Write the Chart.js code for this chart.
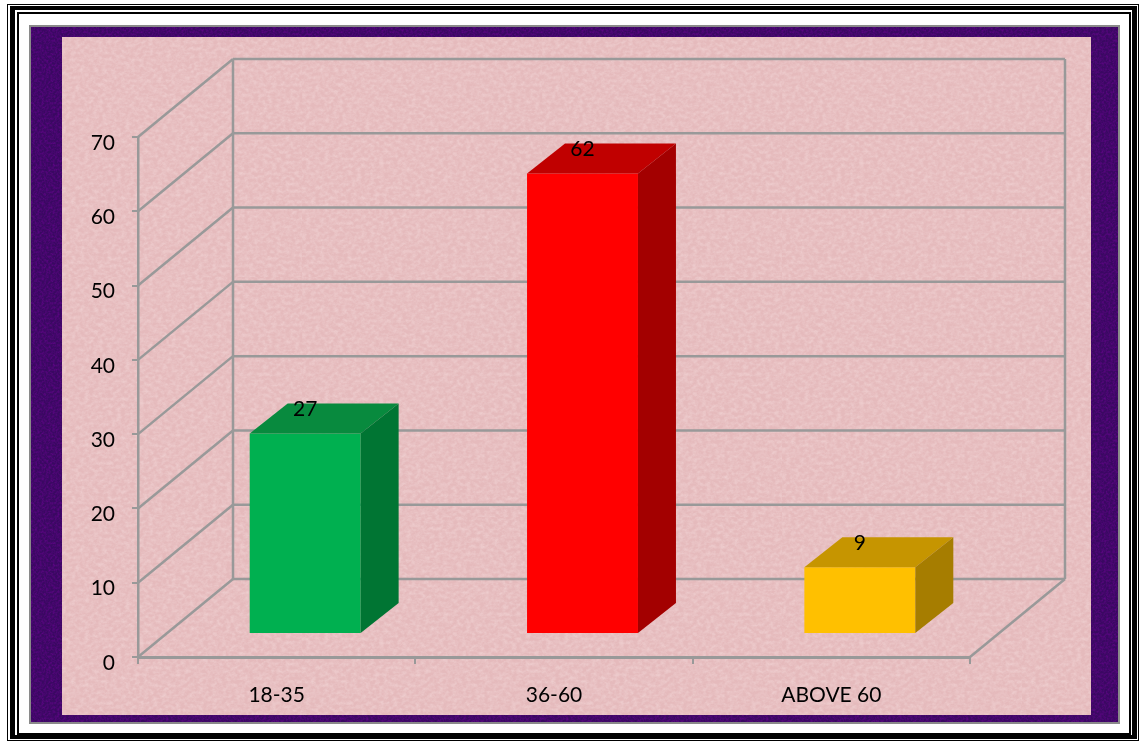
<!DOCTYPE html>
<html>
<head>
<meta charset="utf-8">
<title>Age groups</title>
<script src="https://cdn.jsdelivr.net/npm/chart.js@4/dist/chart.umd.min.js"></script>
<style>
  html, body { margin: 0; padding: 0; background: #fff; }
  #page { position: relative; width: 1144px; height: 742px; overflow: hidden; background: #fff; }
  .box { position: absolute; box-sizing: border-box; }
  #rule1 { left: 7px; top: 4px; width: 1132px; height: 737px; border: 1px solid #000; }
  #rule2 { left: 10px; top: 6px; width: 1127px; height: 733px; border: solid #000; border-width: 4px 5px; }
  #rule3 { left: 17px; top: 12px; width: 1114px; height: 723px; border: 2px solid #000; }
  #panel {
    left: 29px; top: 25px; width: 1091px; height: 699px;
    border: 2px solid #8a8a8a;
    background-color: #3a0862;
    background-image: url("data:image/svg+xml,%3Csvg xmlns='http://www.w3.org/2000/svg' width='200' height='200'%3E%3Cfilter id='n'%3E%3CfeTurbulence type='fractalNoise' baseFrequency='0.45' numOctaves='3' stitchTiles='stitch'/%3E%3CfeColorMatrix values='0 0 0 0 0.3 0 0 0 0 0 0 0 0 0 0.5 0.7 0 0 0 -0.25'/%3E%3C/filter%3E%3Crect width='200' height='200' filter='url(%23n)'/%3E%3C/svg%3E");
  }
  #paper {
    left: 62px; top: 37px; width: 1029px; height: 678px;
    background-color: #e5babc;
    background-image: url("data:image/svg+xml,%3Csvg xmlns='http://www.w3.org/2000/svg' width='240' height='240'%3E%3Cfilter id='n'%3E%3CfeTurbulence type='fractalNoise' baseFrequency='0.22 0.28' numOctaves='4' stitchTiles='stitch'/%3E%3CfeColorMatrix values='0 0 0 0 1 0 0 0 0 0.88 0 0 0 0 0.88 0.6 0 0 0 -0.2'/%3E%3C/filter%3E%3Crect width='240' height='240' filter='url(%23n)'/%3E%3C/svg%3E");
  }
  canvas { position: absolute; left: 0; top: 0; }
</style>
</head>
<body>
<div id="page">
  <div class="box" id="rule1"></div>
  <div class="box" id="rule2"></div>
  <div class="box" id="rule3"></div>
  <div class="box" id="panel"></div>
  <div class="box" id="paper"></div>
  <canvas id="myChart" width="1144" height="742"></canvas>
</div>
<script>
const categories = ['18-35', '36-60', 'ABOVE 60'];
const respondents = [27, 62, 9];

const frontColors = ['#00b050', '#ff0000', '#ffc000'];
const topColors = ['#088a3e', '#c00000', '#c69500'];
const sideColors = ['#007533', '#a30000', '#a67d00'];

const FONT = 'Lato, "Open Sans", sans-serif';
const LINE = '#999999';

// depth of the box the chart sits in, and of the bars inside it
const WALL_DX = 95;
const WALL_DY = -78;
const BAR_SHIFT_X = 28.5;
const BAR_SHIFT_Y = -23;
const BAR_DX = 38;
const BAR_DY = -30;

function poly(ctx, points, color) {
  ctx.fillStyle = color;
  ctx.beginPath();
  points.forEach(([x, y], i) => (i ? ctx.lineTo(x, y) : ctx.moveTo(x, y)));
  ctx.closePath();
  ctx.fill();
}

function line(ctx, x1, y1, x2, y2) {
  ctx.beginPath();
  ctx.moveTo(x1, y1);
  ctx.lineTo(x2, y2);
  ctx.stroke();
}

const walls = {
  id: 'walls',
  beforeDatasetsDraw(chart) {
    const { ctx, chartArea, scales } = chart;
    const { left, right, top, bottom } = chartArea;
    ctx.save();
    ctx.strokeStyle = LINE;
    ctx.lineWidth = 2.5;
    scales.y.ticks.forEach((tick) => {
      const y = scales.y.getPixelForValue(tick.value);
      line(ctx, left, y, left + WALL_DX, y + WALL_DY);
      line(ctx, left + WALL_DX, y + WALL_DY, right + WALL_DX, y + WALL_DY);
    });
    line(ctx, left + WALL_DX, top + WALL_DY, left + WALL_DX, bottom + WALL_DY);
    line(ctx, right + WALL_DX, top + WALL_DY, right + WALL_DX, bottom + WALL_DY);
    line(ctx, right, bottom, right + WALL_DX, bottom + WALL_DY);
    ctx.restore();
  },
};

// the library paints the front face, shifted onto the floor; top and side go on after
const boxes = {
  id: 'boxes',
  beforeDatasetDraw(chart) {
    chart.ctx.save();
    chart.ctx.translate(BAR_SHIFT_X, BAR_SHIFT_Y);
  },
  afterDatasetDraw(chart, args) {
    const { ctx } = chart;
    args.meta.data.forEach((bar, i) => {
      const l = bar.x - bar.width / 2;
      const r = bar.x + bar.width / 2;
      poly(ctx, [[l, bar.y], [l + BAR_DX, bar.y + BAR_DY], [r + BAR_DX, bar.y + BAR_DY], [r, bar.y]], topColors[i]);
      poly(ctx, [[r, bar.y], [r + BAR_DX, bar.y + BAR_DY], [r + BAR_DX, bar.base + BAR_DY], [r, bar.base]], sideColors[i]);
      ctx.fillStyle = '#000';
      ctx.font = '21px ' + FONT;
      ctx.textAlign = 'center';
      ctx.textBaseline = 'middle';
      ctx.fillText(respondents[i], bar.x, bar.y - 24);
    });
    ctx.restore();
  },
};

new Chart(document.getElementById('myChart'), {
  type: 'bar',
  data: {
    labels: categories,
    datasets: [
      {
        data: respondents,
        backgroundColor: frontColors,
        borderWidth: 0,
        categoryPercentage: 1,
        barPercentage: 0.4,
        clip: false,
      },
    ],
  },
  plugins: [walls, boxes],
  options: {
    responsive: false,
    animation: false,
    layout: { padding: { top: 137, right: 174, bottom: 0, left: 0 } },
    plugins: { legend: { display: false }, tooltip: { enabled: false } },
    scales: {
      x: {
        afterFit: (scale) => { scale.height = 85; },
        border: { color: LINE, width: 3 },
        grid: { drawOnChartArea: false, color: LINE, lineWidth: 2, tickLength: 7 },
        ticks: { color: '#000', font: { family: FONT, size: 21 }, padding: 19, maxRotation: 0, autoSkip: false },
      },
      y: {
        min: 0,
        max: 70,
        afterFit: (scale) => { scale.width = 138; },
        border: { color: LINE, width: 2.5 },
        grid: { drawOnChartArea: false, color: LINE, lineWidth: 2, tickLength: 6 },
        ticks: { stepSize: 10, color: '#000', font: { family: FONT, size: 21 }, padding: 17, labelOffset: 6 },
      },
    },
  },
});
</script>
</body>
</html>
